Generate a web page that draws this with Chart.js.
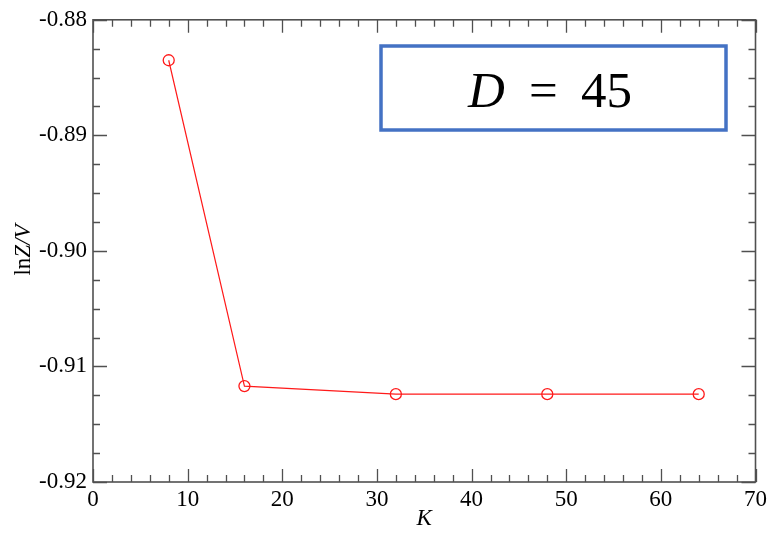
<!DOCTYPE html>
<html>
<head>
<meta charset="utf-8">
<script src="https://cdn.jsdelivr.net/npm/chart.js@4"></script>
<style>
  html, body { margin: 0; padding: 0; background: #fff; }
  #wrap { width: 771px; height: 533px; }
</style>
</head>
<body>
<div id="wrap"><canvas id="myChart"></canvas></div>
<script>
// data
const kValues = [8, 16, 32, 48, 64];
const lnZV = [-0.8835, -0.9117, -0.9124, -0.9124, -0.9124];
const xTicks = [0, 10, 20, 30, 40, 50, 60, 70];
const yTicks = [-0.92, -0.91, -0.90, -0.89, -0.88];
const boxLabel = 'D = 45';

const serif = '"Liberation Serif", "DejaVu Serif", serif';
const frameColor = '#505050';

// frame with inward ticks on all four sides, plus the D = 45 box
const decor = {
  id: 'decor',
  afterDraw(chart) {
    const ctx = chart.ctx;
    const a = chart.chartArea;
    const xs = chart.scales.x;
    const ys = chart.scales.y;
    ctx.save();
    ctx.strokeStyle = frameColor;
    ctx.lineWidth = 1.6;
    ctx.strokeRect(a.left, a.top, a.right - a.left, a.bottom - a.top);
    ctx.lineWidth = 1.3;
    ctx.beginPath();
    for (let v = xTicks[0]; v <= xTicks[xTicks.length - 1]; v += 2) {
      const px = Math.round(xs.getPixelForValue(v)) + 0.5;
      const len = v % 10 === 0 ? 13 : 7;
      ctx.moveTo(px, a.bottom); ctx.lineTo(px, a.bottom - len);
      ctx.moveTo(px, a.top); ctx.lineTo(px, a.top + len);
    }
    for (let i = 0; i <= 16; i++) {
      const v = yTicks[0] + i * 0.0025;
      const py = Math.round(ys.getPixelForValue(v)) + 0.5;
      const len = i % 4 === 0 ? 14 : 7;
      ctx.moveTo(a.left, py); ctx.lineTo(a.left + len, py);
      ctx.moveTo(a.right, py); ctx.lineTo(a.right - len, py);
    }
    ctx.stroke();

    // y title: "ln" upright, "Z/V" italic
    ctx.translate(24, 250);
    ctx.rotate(-Math.PI / 2);
    ctx.fillStyle = '#000';
    ctx.textBaseline = 'middle';
    ctx.font = '23px ' + serif;
    const w1 = ctx.measureText('ln').width;
    ctx.font = 'italic 23px ' + serif;
    const w2 = ctx.measureText('Z/V').width;
    const x0 = -(w1 + w2) / 2;
    ctx.textAlign = 'left';
    ctx.font = '23px ' + serif;
    ctx.fillText('ln', x0, 0);
    ctx.font = 'italic 23px ' + serif;
    ctx.fillText('Z/V', x0 + w1, 0);
    ctx.restore();

    // annotation box
    ctx.save();
    ctx.strokeStyle = '#4472C4';
    ctx.lineWidth = 3.5;
    ctx.strokeRect(381, 46, 345, 84);
    ctx.fillStyle = '#000';
    ctx.textBaseline = 'alphabetic';
    ctx.textAlign = 'left';
    ctx.font = 'italic 51px ' + serif;
    ctx.fillText('D', 468, 107);
    ctx.font = '51px ' + serif;
    ctx.textAlign = 'center';
    ctx.fillText('=', 543.5, 107);
    ctx.textAlign = 'left';
    ctx.fillText('45', 581, 107);
    ctx.restore();
  }
};

const ctx = document.getElementById('myChart').getContext('2d');
const myChart = new Chart(ctx, {
  type: 'line',
  data: {
    datasets: [{
      label: boxLabel,
      data: kValues.map((k, i) => ({ x: k, y: lnZV[i] })),
      borderColor: '#ff1a1a',
      backgroundColor: 'rgba(0,0,0,0)',
      borderWidth: 1.2,
      pointRadius: 5.5,
      pointBorderWidth: 1.3,
      pointBorderColor: '#ff1a1a',
      pointBackgroundColor: 'rgba(0,0,0,0)',
      tension: 0
    }]
  },
  options: {
    responsive: true,
    maintainAspectRatio: false,
    animation: false,
    layout: { padding: { left: 0, right: 14, top: 18, bottom: 0 } },
    plugins: {
      legend: { display: false },
      tooltip: { enabled: false }
    },
    scales: {
      x: {
        type: 'linear',
        min: xTicks[0],
        max: xTicks[xTicks.length - 1],
        afterFit(scale) { scale.height = 51; },
        afterBuildTicks(scale) { scale.ticks = xTicks.map(v => ({ value: v })); },
        grid: { display: false, drawTicks: false },
        border: { display: false },
        ticks: {
          padding: 4,
          color: '#000',
          font: { family: serif, size: 23 },
          maxRotation: 0,
          callback: v => String(v)
        },
        title: {
          display: true,
          text: 'K',
          color: '#000',
          font: { family: serif, size: 23, style: 'italic' },
          padding: { top: -3, bottom: 0 }
        }
      },
      y: {
        type: 'linear',
        min: yTicks[0],
        max: yTicks[yTicks.length - 1],
        afterFit(scale) { scale.width = 93; },
        afterBuildTicks(scale) { scale.ticks = yTicks.map(v => ({ value: v })); },
        grid: { display: false, drawTicks: false },
        border: { display: false },
        ticks: {
          padding: 6,
          color: '#000',
          font: { family: serif, size: 23 },
          callback: v => v.toFixed(2)
        }
      }
    }
  },
  plugins: [decor]
});
</script>
</body>
</html>
